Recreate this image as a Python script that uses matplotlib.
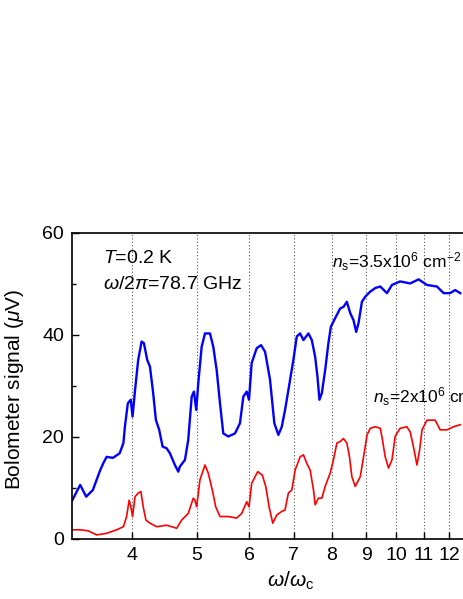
import matplotlib
matplotlib.use("Agg")
import matplotlib.pyplot as plt
from matplotlib.ticker import FixedLocator, NullLocator, FixedFormatter

plt.rcParams['font.family'] = ['Liberation Sans', 'DejaVu Sans']
plt.rcParams['mathtext.fontset'] = 'custom'
plt.rcParams['mathtext.rm'] = 'Liberation Sans'
plt.rcParams['mathtext.it'] = 'Liberation Sans:italic'
plt.rcParams['mathtext.bf'] = 'Liberation Sans:bold'

# Blue curve: n_s = 3.5x10^6 cm^-2
blue_x = [3.25, 3.34, 3.41, 3.49, 3.58, 3.62, 3.66, 3.74, 3.83, 3.88, 3.90, 3.94, 3.98,
          4.005, 4.04, 4.084, 4.133, 4.166, 4.214, 4.254, 4.302, 4.343, 4.393, 4.445,
          4.507, 4.559, 4.639, 4.693, 4.720, 4.803, 4.858, 4.917, 4.955, 4.995, 5.030,
          5.090, 5.149, 5.239, 5.299, 5.362, 5.424, 5.486, 5.582, 5.714, 5.813, 5.881,
          5.950, 5.998, 6.054, 6.160, 6.254, 6.342, 6.452, 6.549, 6.641, 6.720, 6.797,
          6.876, 6.996, 7.079, 7.161, 7.244, 7.371, 7.458, 7.545, 7.606, 7.658, 7.722,
          7.811, 7.900, 7.967, 8.087, 8.229, 8.323, 8.422, 8.520, 8.618, 8.699, 8.769,
          8.873, 8.976, 9.133, 9.293, 9.456, 9.678, 9.848, 10.13, 10.49, 10.80, 11.12,
          11.51, 11.78, 12.05, 12.26, 12.48]
blue_y = [7.6, 10.6, 8.3, 9.6, 13.5, 14.9, 16.1, 15.9, 16.8, 18.8, 22.0, 26.6, 27.3,
          24.0, 29.2, 35.1, 38.7, 38.4, 35.1, 33.8, 28.6, 23.3, 21.4, 18.1,
          17.8, 16.8, 14.5, 13.2, 14.2, 15.5, 19.4, 27.9, 28.9, 25.3, 30.5,
          37.7, 40.3, 40.3, 37.7, 33.1, 26.6, 20.7, 20.1, 20.7, 22.7, 27.9,
          28.9, 27.3, 34.5, 37.4, 38.0, 36.7, 31.2, 22.7, 20.4, 22.0, 25.3,
          29.2, 35.1, 39.7, 40.3, 39.0, 40.3, 39.0, 35.7, 31.8, 27.3, 28.6,
          33.1, 38.4, 41.6, 43.3, 45.2, 45.5, 46.5, 44.3, 42.9, 40.6, 42.3,
          46.5, 47.5, 48.5, 49.2, 49.5, 48.2, 49.8, 50.5, 50.1, 50.9, 49.8,
          49.5, 48.2, 48.2, 48.8, 48.2]

# Red curve: n_s = 2x10^6 cm^-2
red_x = [3.25, 3.34, 3.433, 3.535, 3.66, 3.789, 3.88, 3.923, 3.958, 3.982, 4.005, 4.04,
         4.084, 4.123, 4.156, 4.195, 4.254, 4.354, 4.507, 4.667, 4.748, 4.858, 4.944,
         4.973, 5.002, 5.060, 5.149, 5.208, 5.281, 5.344, 5.424, 5.582, 5.747, 5.848,
         5.950, 5.998, 6.054, 6.182, 6.282, 6.357, 6.431, 6.513, 6.604, 6.720, 6.797,
         6.876, 6.958, 7.038, 7.161, 7.244, 7.330, 7.415, 7.502, 7.545, 7.632, 7.722,
         7.811, 7.948, 8.039, 8.135, 8.229, 8.323, 8.422, 8.499, 8.570, 8.670, 8.822,
         8.924, 9.032, 9.133, 9.293, 9.456, 9.510, 9.620, 9.732, 9.848, 9.957, 10.13,
         10.37, 10.49, 10.61, 10.74, 10.84, 10.93, 11.12, 11.44, 11.64, 11.92, 12.19,
         12.48]
red_y = [1.8, 1.8, 1.6, 0.8, 1.1, 1.8, 2.4, 4.4, 7.6, 6.3, 4.4, 8.3,
         9.0, 9.3, 6.3, 3.7, 3.1, 2.4, 2.7, 2.1, 3.7, 5.0, 8.0,
         7.6, 6.3, 11.6, 14.5, 12.9, 9.6, 6.3, 4.4, 4.4, 4.1, 5.0,
         7.3, 6.3, 10.9, 13.2, 12.5, 10.3, 6.3, 3.1, 4.7, 5.4, 5.7,
         9.0, 9.6, 13.5, 16.1, 16.5, 14.8, 13.5, 9.6, 6.7, 8.0, 8.0,
         10.3, 12.9, 15.5, 18.8, 19.1, 19.7, 18.8, 16.1, 12.2, 10.3, 12.2,
         16.1, 20.4, 21.7, 22.0, 21.7, 20.1, 16.1, 13.9, 15.5, 20.1, 21.7,
         22.0, 21.0, 18.1, 14.5, 17.5, 21.4, 23.3, 23.3, 21.4, 21.4, 22.0,
         22.4]

x_ticks = [4, 5, 6, 7, 8, 9, 10, 11, 12]
x_ticklabels = ['4', '5', '6', '7', '8', '9', '10', '11', '12']
y_major = [0, 20, 40, 60]
y_minor = [10, 30, 50]

fig = plt.figure(figsize=(4.63, 5.99), dpi=100)
ax = fig.add_axes([0.1562, 0.1002, 0.8633, 0.5109])

ax.plot(blue_x, blue_y, color='#0000ff', lw=1.7)
ax.plot(red_x, red_y, color='#ff0000', lw=1.2)

ax.set_xscale('log')
ax.set_xlim(3.25, 13.0)
ax.set_ylim(0, 60)

ax.xaxis.set_major_locator(FixedLocator(x_ticks))
ax.xaxis.set_major_formatter(FixedFormatter(x_ticklabels))
ax.xaxis.set_minor_locator(NullLocator())
ax.set_yticks(y_major)
ax.set_yticks(y_minor, minor=True)

for xv in x_ticks:
    ax.axvline(xv, color='#555555', lw=0.8, ls=(0, (1, 2)), zorder=0)

ax.tick_params(axis='both', which='major', direction='in', length=5, width=1,
               labelsize=14, top=False, right=False, pad=6)
ax.tick_params(axis='y', which='minor', direction='in', length=3, width=1)
for s in ax.spines.values():
    s.set_linewidth(1.2)
ax.spines['right'].set_visible(False)

ax.set_xlabel(r'$\omega$/$\omega_{\rm c}$', fontsize=15)
ax.xaxis.set_label_coords(0.545, -0.1)
ax.set_ylabel(r'Bolometer signal ($\mu$V)', fontsize=15)
ax.yaxis.set_label_coords(-0.115, 0.49)

ax.text(0.0776, 0.915, r'$\it{T}$=0.2 K', transform=ax.transAxes, fontsize=14,
        va='center', ha='left')
ax.text(0.0776, 0.833, r'$\omega$/2$\pi$=78.7 GHz', transform=ax.transAxes, fontsize=14,
        va='center', ha='left')
ax.text(0.650, 0.905, r'$\it{n}_{\rm s}$=3.5x10$^{6}$ cm$^{-2}$', transform=ax.transAxes,
        fontsize=12.5, va='center', ha='left')
ax.text(0.752, 0.464, r'$\it{n}_{\rm s}$=2x10$^{6}$ cm$^{-2}$', transform=ax.transAxes,
        fontsize=12.5, va='center', ha='left', clip_on=False)

fig.savefig('out.png', dpi=100)
